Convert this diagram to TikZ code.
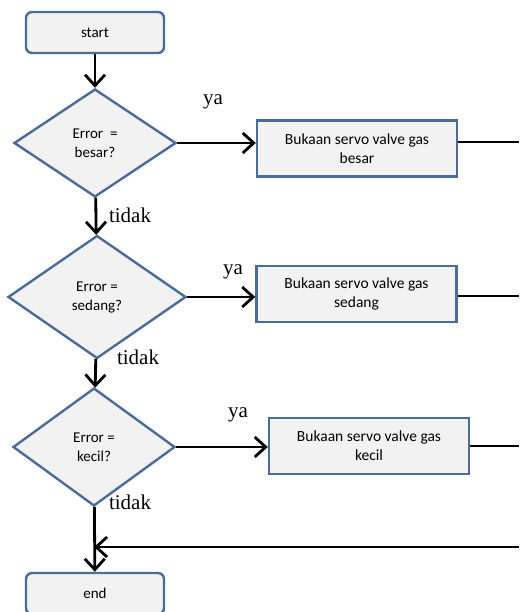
\documentclass[tikz,border=0pt]{standalone}
\usepackage{fontspec}
\setmainfont{Liberation Serif}
\newfontfamily\boxfont{Carlito}
\usepackage{xcolor}
\definecolor{cEdge}{HTML}{4A6C99}
\definecolor{cFill}{HTML}{F2F2F2}
\usepackage{tikz}
\usetikzlibrary{positioning,arrows.meta,shapes.geometric}
\tikzset{
  node-term/.style={draw=cEdge,line width=2.4pt,fill=cFill,rounded corners=6pt,
    minimum width=138pt,minimum height=41pt,inner sep=0pt,align=center,
    font=\boxfont\fontsize{15}{18}\selectfont},
  node-box/.style={draw=cEdge,line width=2.4pt,fill=cFill,
    minimum width=200pt,minimum height=56pt,inner sep=0pt,align=center,
    font=\boxfont\fontsize{15.5}{19}\selectfont},
  node-cond/.style={draw=cEdge,line width=2.4pt,fill=cFill,diamond,
    inner sep=0pt,align=center,font=\boxfont\fontsize{15}{19}\selectfont},
  node-lbl/.style={inner sep=0pt,font=\fontsize{21}{24}\selectfont},
  arrow/.style={-{Straight Barb[length=11pt,width=20pt,line width=2.8pt]},
    line width=2.8pt,draw=black},
  line/.style={line width=2.8pt,draw=black},
}
\begin{document}
\begin{tikzpicture}[x=1pt,y=-1pt]
  \useasboundingbox (0,0) rectangle (519,612);
  % kolom kiri: start, tiga keputusan, end
  \node[node-term]                                      (start) at (95,32.5) {start};
  \node[node-cond,minimum width=162pt,minimum height=108pt] (besar) at (95,143)
    {Error \ =\\besar?};
  \node[node-cond,minimum width=178pt,minimum height=123pt] (sedang) at (97,297)
    {Error =\\sedang?};
  \node[node-cond,minimum width=162pt,minimum height=118pt] (kecil) at (94,447)
    {Error =\\kecil?};
  \node[node-term]                                      (end) at (95,593.5) {end};
  % kolom kanan: bukaan servo valve
  \node[node-box] (vbesar)  at (357,148.5) {Bukaan servo valve gas\\besar};
  \node[node-box] (vsedang) at (356.5,294) {Bukaan servo valve gas\\sedang};
  \node[node-box] (vkecil)  at (369,446)   {Bukaan servo valve gas\\kecil};
  % label cabang
  \node[node-lbl] (ya1)    at (213,102) {ya};
  \node[node-lbl] (ya2)    at (233,272) {ya};
  \node[node-lbl] (ya3)    at (238,415) {ya};
  \node[node-lbl] (tidak1) at (130,215) {tidak};
  \node[node-lbl] (tidak2) at (138,357) {tidak};
  \node[node-lbl] (tidak3) at (130,502) {tidak};
  % ujung kanan (terpotong)
  \coordinate (o1) at (519,142);
  \coordinate (o2) at (519,296);
  \coordinate (o3) at (519,446);
  \coordinate (back) at (519,547);
  \draw[arrow] (start) -- (besar);
  \draw[arrow] (besar) -- (sedang);
  \draw[arrow] (sedang) -- (kecil);
  \draw[arrow] (kecil) -- (end);
  \draw[arrow] (besar.east) -- (besar.east -| vbesar.west);
  \draw[arrow] (sedang.east) -- (sedang.east -| vsedang.west);
  \draw[arrow] (kecil.east) -- (kecil.east -| vkecil.west);
  \draw[line] (vbesar.east |- o1) -- (o1);
  \draw[line] (vsedang.east |- o2) -- (o2);
  \draw[line] (vkecil.east |- o3) -- (o3);
  \draw[arrow] (back) -- (back -| kecil.south);
\end{tikzpicture}
\end{document}
